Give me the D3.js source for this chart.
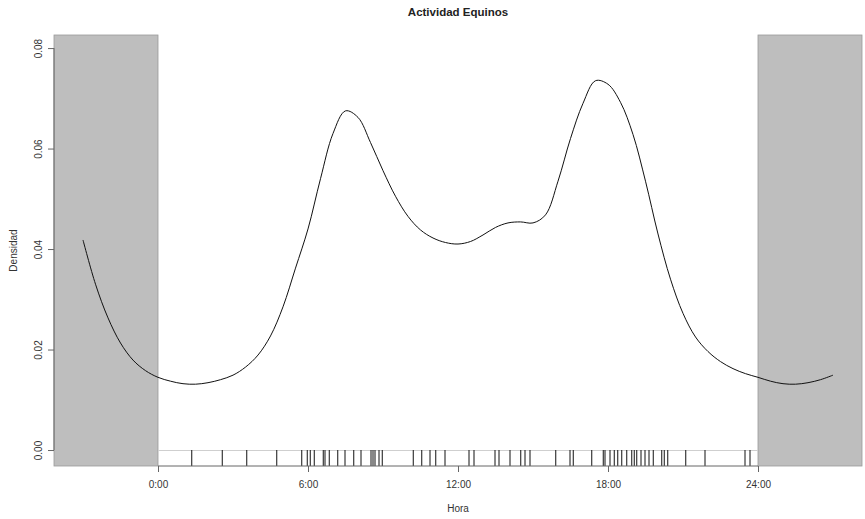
<!DOCTYPE html>
<html>
<head>
<meta charset="utf-8">
<script src="https://cdn.jsdelivr.net/npm/d3@7"></script>
<style>
  body { margin: 0; background: #fff; }
  text { font-family: "Liberation Sans", Arial, sans-serif; }
</style>
</head>
<body>
<div id="chart"></div>
<script>
// density curve (hour, density)
const hours = [-3, -2.5, -2, -1.5, -1, -0.5, 0, 0.5, 1, 1.5, 2, 2.5, 3, 3.5, 4, 4.5, 5, 5.5,
  6, 6.5, 7, 7.5, 8, 8.5, 9, 9.5, 10, 10.5, 11, 11.5, 12, 12.5, 13, 13.5, 14, 14.5, 15, 15.5,
  16, 16.5, 17, 17.5, 18, 18.5, 19, 19.5, 20, 20.5, 21, 21.5, 22, 22.5, 23, 23.5, 24,
  24.5, 25, 25.5, 26, 26.5, 27];
const density = [0.0418, 0.0330, 0.0263, 0.0213, 0.0179, 0.0158, 0.01447, 0.0137, 0.0132, 0.0131, 0.0134, 0.0140, 0.0149, 0.0165, 0.0189, 0.0227, 0.0285, 0.0362,
  0.0440, 0.0540, 0.0630, 0.0675, 0.0662, 0.0612, 0.0556, 0.0505, 0.0465, 0.0438, 0.0422, 0.0413, 0.0410, 0.0415, 0.0428, 0.0443, 0.0452, 0.0454, 0.0452, 0.0468,
  0.0535, 0.0620, 0.0690, 0.0735, 0.0728, 0.0692, 0.0628, 0.0535, 0.0430, 0.0340, 0.0272, 0.0225, 0.0196, 0.0176, 0.0162, 0.0152, 0.01447,
  0.0137, 0.0132, 0.0131, 0.0134, 0.0140, 0.0149];

// observation times (rug)
const records = [1.35, 2.57, 3.55, 4.75, 5.75, 5.97, 6.09, 6.25, 6.61, 6.68, 6.85, 7.19, 7.48, 7.83, 8.12,
  8.52, 8.60, 8.68, 8.84, 8.97, 10.21, 10.55, 10.88, 11.11, 11.48, 12.44, 12.64, 13.48, 13.64, 14.08,
  14.51, 14.68, 14.88, 15.91, 16.48, 16.61, 17.35, 17.81, 17.88, 18.08, 18.25, 18.39, 18.55, 18.75,
  18.95, 19.05, 19.15, 19.32, 19.48, 19.64, 19.81, 20.15, 20.25, 20.39, 21.11, 21.88, 23.48, 23.68];

const xTicks = [0, 6, 12, 18, 24];
const xTickLabels = ['0:00', '6:00', '12:00', '18:00', '24:00'];
const yTicks = [0, 0.02, 0.04, 0.06, 0.08];
const yTickLabels = ['0.00', '0.02', '0.04', '0.06', '0.08'];
const nightBands = [[-4.16, 0], [24, 28.16]];

const width = 865;
const height = 519;

const svg = d3.select('#chart')
    .append('svg')
    .attr('width', width)
    .attr('height', height);

const xScale = d3.scaleLinear()
    .domain([-4.16, 28.16])
    .range([54, 862]);

const yScale = d3.scaleLinear()
    .domain([-0.00318, 0.0826])
    .range([466, 35]);

// grey night bands
svg.append('g')
    .selectAll('rect')
    .data(nightBands)
    .join('rect')
    .attr('x', d => xScale(d[0]))
    .attr('y', yScale(0.0826))
    .attr('width', d => xScale(d[1]) - xScale(d[0]))
    .attr('height', yScale(-0.00318) - yScale(0.0826))
    .attr('fill', '#bebebe')
    .attr('stroke', '#9a9a9a')
    .attr('stroke-width', 0.8);

// rug strip top line
svg.append('line')
    .attr('x1', xScale(0))
    .attr('x2', xScale(24))
    .attr('y1', yScale(0) + 0.5)
    .attr('y2', yScale(0) + 0.5)
    .attr('stroke', '#cfcfcf');

svg.append('g')
    .selectAll('line')
    .data(records)
    .join('line')
    .attr('x1', d => xScale(d))
    .attr('x2', d => xScale(d))
    .attr('y1', yScale(0))
    .attr('y2', yScale(-0.00318))
    .attr('stroke', '#111')
    .attr('stroke-width', 1);

// density line
const line = d3.line()
    .x((d, i) => xScale(hours[i]))
    .y(d => yScale(d))
    .curve(d3.curveCatmullRom.alpha(0.5));

svg.append('path')
    .attr('d', line(density))
    .attr('fill', 'none')
    .attr('stroke', '#111')
    .attr('stroke-width', 1);

// x axis
const xAxis = svg.append('g')
    .attr('transform', `translate(0,${yScale(-0.00318)})`)
    .call(d3.axisBottom(xScale)
        .tickValues(xTicks)
        .tickFormat((d, i) => xTickLabels[i])
        .tickSize(6)
        .tickPadding(9)
        .tickSizeOuter(0));
xAxis.select('.domain').remove();
xAxis.append('line')
    .attr('x1', xScale(0))
    .attr('x2', xScale(24))
    .attr('stroke', '#666');
xAxis.selectAll('.tick line').attr('stroke', '#666');
xAxis.selectAll('.tick text')
    .attr('fill', '#333')
    .style('font-size', '10px')
    .style('font-family', '"Liberation Sans", Arial, sans-serif');

// y axis
const yAxis = svg.append('g')
    .attr('transform', `translate(${xScale(-4.16)},0)`)
    .call(d3.axisLeft(yScale)
        .tickValues(yTicks)
        .tickFormat((d, i) => yTickLabels[i])
        .tickSize(6)
        .tickSizeOuter(0));
yAxis.select('.domain').remove();
yAxis.append('line')
    .attr('y1', yScale(0))
    .attr('y2', yScale(0.08))
    .attr('stroke', '#666');
yAxis.selectAll('.tick line').attr('stroke', '#666');
yAxis.selectAll('.tick text')
    .attr('x', 0)
    .attr('dy', 0)
    .attr('transform', 'translate(-12.5,0) rotate(-90)')
    .attr('text-anchor', 'middle')
    .attr('fill', '#333')
    .style('font-size', '10px')
    .style('font-family', '"Liberation Sans", Arial, sans-serif');

// titles
svg.append('text')
    .attr('x', 458)
    .attr('y', 16)
    .attr('text-anchor', 'middle')
    .style('font-size', '11.5px')
    .style('font-weight', 'bold')
    .attr('fill', '#222')
    .text('Actividad Equinos');

svg.append('text')
    .attr('x', 458)
    .attr('y', 512)
    .attr('text-anchor', 'middle')
    .style('font-size', '10px')
    .attr('fill', '#333')
    .text('Hora');

svg.append('text')
    .attr('transform', 'translate(16.7,250.5) rotate(-90)')
    .attr('text-anchor', 'middle')
    .style('font-size', '10px')
    .attr('fill', '#333')
    .text('Densidad');
</script>
</body>
</html>
